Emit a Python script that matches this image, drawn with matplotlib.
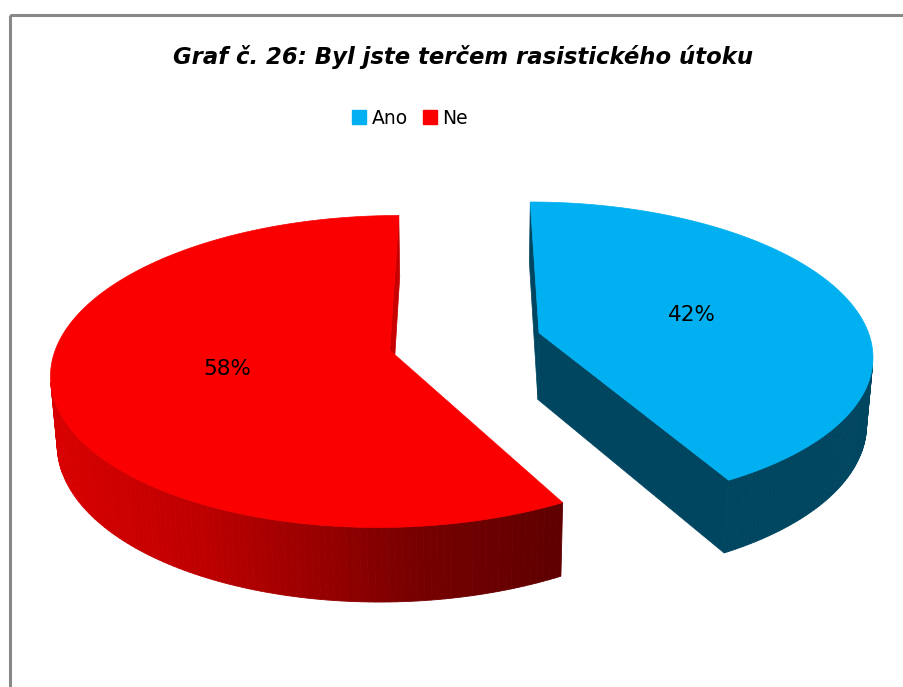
import numpy as np
import matplotlib
matplotlib.use('Agg')
import matplotlib.pyplot as plt
from matplotlib.patches import Polygon, Rectangle, Patch

categories = ['Ano', 'Ne']
values = [42, 58]
top_colors = ['#00B0F0', '#FA0000']
side_colors = ['#004660', '#C80000']
title = 'Graf č. 26: Byl jste terčem rasistického útoku'

plt.rcParams['font.family'] = ['DejaVu Sans']

## layout / camera (pixel space)
W, H = 904, 687
CX, CY = 465, 341.5      # screen position of pie centre
SCALE = 332.0            # px per radius at centre depth
ELEV = np.radians(27)
DIST = 6.6
THICK = 0.23
EXPLODE = 0.232
S, C = np.sin(ELEV), np.cos(ELEV)
CAM = np.array([0.0, -DIST * C])


def project(x, y, z):
    depth = DIST + y * C - z * S
    f = SCALE * DIST
    return CX + f * x / depth, CY - f * (y * S + z * C) / depth


def faces_cam(px, py, nx, ny):
    return (CAM[0] - px) * nx + (CAM[1] - py) * ny > 0


def ne_shade(x):
    r = np.interp(x, [50, 200, 330, 420, 555], [218, 190, 148, 118, 96])
    return (r / 255, 0, 0)


fig = plt.figure(figsize=(W / 100, H / 100), dpi=100)
ax = fig.add_axes([0, 0, 1, 1])
ax.set_xlim(0, W)
ax.set_ylim(H, 0)
ax.axis('off')

fracs = np.array(values, dtype=float) / sum(values)
start = 90.0
tops = []
for i, fr in enumerate(fracs):
    a0 = start
    a1 = start - fr * 360
    start = a1
    mid = np.radians((a0 + a1) / 2)
    ox, oy = EXPLODE * np.cos(mid), EXPLODE * np.sin(mid)
    th = np.radians(np.linspace(a0, a1, 200))
    rx, ry = ox + np.cos(th), oy + np.sin(th)

    # curved outer wall
    for k in range(len(th) - 1):
        tm = (th[k] + th[k + 1]) / 2
        if not faces_cam(ox + np.cos(tm), oy + np.sin(tm), np.cos(tm), np.sin(tm)):
            continue
        pts = [project(rx[k], ry[k], 0), project(rx[k + 1], ry[k + 1], 0),
               project(rx[k + 1], ry[k + 1], -THICK), project(rx[k], ry[k], -THICK)]
        if i == 1:
            col = ne_shade(np.mean([p[0] for p in pts]))
        else:
            col = side_colors[i]
        ax.add_patch(Polygon(pts, closed=True, fc=col, ec=col, lw=0.6, zorder=1))

    # radial walls
    for ang, sgn in ((a0, 1), (a1, -1)):
        n_ang = np.radians(ang + 90 * sgn)
        if not faces_cam(ox, oy, np.cos(n_ang), np.sin(n_ang)):
            continue
        ex, ey = ox + np.cos(np.radians(ang)), oy + np.sin(np.radians(ang))
        pts = [project(ox, oy, 0), project(ex, ey, 0),
               project(ex, ey, -THICK), project(ox, oy, -THICK)]
        ax.add_patch(Polygon(pts, closed=True, fc=side_colors[i], ec=side_colors[i],
                             lw=0.5, zorder=1.5))

    # top face
    top = [project(ox, oy, 0)] + [project(x, y, 0) for x, y in zip(rx, ry)]
    tops.append(Polygon(top, closed=True, fc=top_colors[i], ec=top_colors[i], lw=0.5, zorder=2))

    # data label
    lr = 0.49
    lx, ly = project(ox + lr * np.cos(mid), oy + lr * np.sin(mid), 0)
    ax.text(lx, ly, '{:.0f}%'.format(fr * 100), ha='center', va='center',
            fontsize=15.5, color='black', zorder=3)

for p in tops:
    ax.add_patch(p)

## chart border
ax.add_patch(Rectangle((10.5, 14.5), 1200, 1200, fill=False, ec='#888888', lw=2.2,
                       clip_on=False, zorder=5))

## title and legend
ax.text(463.5, 57, title, ha='center', va='center', fontsize=16.4,
        fontweight='bold', fontstyle='italic')
handles = [Patch(fc=c, ec=c) for c in top_colors]
fig.legend(handles, categories, loc='center', bbox_to_anchor=(410 / W, 1 - 118 / H),
           ncol=2, frameon=False, fontsize=13.5, handlelength=0.75, handleheight=0.75,
           handletextpad=0.3, columnspacing=0.8)

fig.savefig('out.png', dpi=100)
